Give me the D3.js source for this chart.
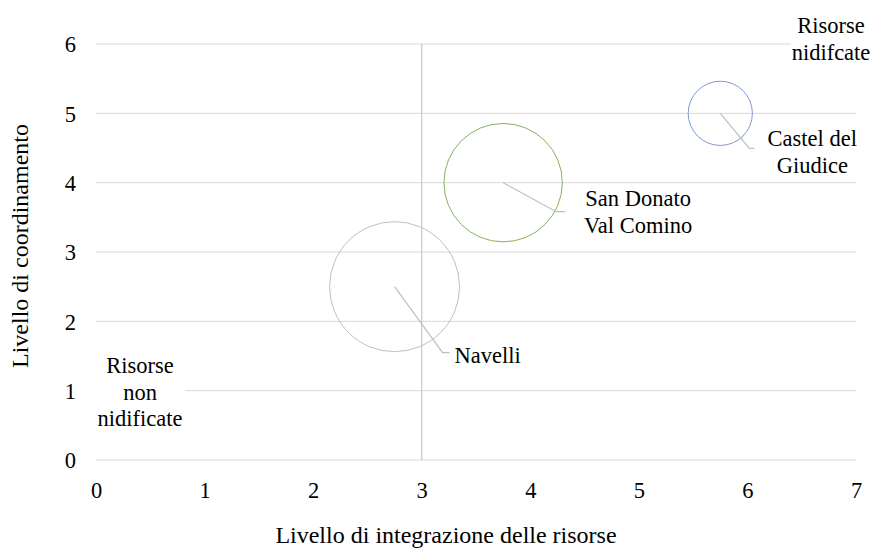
<!DOCTYPE html>
<html><head><meta charset="utf-8">
<script src="https://cdn.jsdelivr.net/npm/d3@7"></script>
</head><body style="margin:0;background:#fff"><svg id="c" width="882" height="552"></svg>
<script>
const names = ["Navelli", "San Donato Val Comino", "Castel del Giudice"];
const labelLines = [["Navelli"], ["San Donato", "Val Comino"], ["Castel del", "Giudice"]];
const xVals = [2.75, 3.75, 5.75];
const yVals = [2.5, 4, 5];
const sizes = [4.1, 3.4, 1.0];
const xTicks = [0,1,2,3,4,5,6,7];
const yTicks = [0,1,2,3,4,5,6];

const strokes = ["#c9bcbc", "#86b25f", "#7f9ad0"];
// label / leader geometry (pixel offsets from the bubble centre)
const labelOff = [[60, 68, "start"], [135, 29, "middle"], [92, 38, "middle"]];
const leaderOff = [[[48,66],[55,66]], [[53,29],[62,29]], [[29,35],[34,35]]];
const FF = "Liberation Serif";
const FS = "22.5px";

const svg = d3.select("#c");
const x = d3.scaleLinear().domain([0,7]).range([96,856]);
const y = d3.scaleLinear().domain([0,6]).range([460,44]);
const r = d3.scaleSqrt().domain([0,4.1]).range([0,65]);

function styleText(sel, fs){ return sel.style("font-family", FF).style("font-size", fs || FS).attr("fill", "#000"); }

svg.append("g").selectAll("line").data(yTicks).join("line")
  .attr("x1", x(0)).attr("x2", x(7))
  .attr("y1", d=>y(d)).attr("y2", d=>y(d))
  .attr("stroke", "#d9d9d9").attr("stroke-width", 1);

svg.append("line").attr("x1", x(3)).attr("x2", x(3)).attr("y1", y(6)).attr("y2", y(0))
  .attr("stroke", "#c8c8c8").attr("stroke-width", 1.2);

const xAxis = d3.axisBottom(x).tickValues(xTicks).tickFormat(d3.format("d")).tickSize(0).tickPadding(0);
const gx = svg.append("g").attr("transform", "translate(0,490)").call(xAxis);
gx.select(".domain").remove();
styleText(gx.selectAll("text")).attr("y", 0).attr("dy", "0.35em");

const yAxis = d3.axisLeft(y).tickValues(yTicks).tickFormat(d3.format("d")).tickSize(0).tickPadding(0);
const gy = svg.append("g").attr("transform", "translate(76,0)").call(yAxis);
gy.select(".domain").remove();
styleText(gy.selectAll("text")).attr("dy", "0.35em");

const pts = names.map((n,i)=>({n, i, x:xVals[i], y:yVals[i], s:sizes[i]}));
svg.append("g").selectAll("circle").data(pts).join("circle")
  .attr("cx", d=>x(d.x)).attr("cy", d=>y(d.y)).attr("r", d=>r(d.s))
  .attr("fill", "none").attr("stroke", d=>strokes[d.i]).attr("stroke-width", 1);

pts.forEach(d=>{
  const cx = x(d.x), cy = y(d.y);
  const [e, f] = leaderOff[d.i];
  svg.append("polyline")
    .attr("points", `${cx},${cy} ${cx+e[0]},${cy+e[1]} ${cx+f[0]},${cy+f[1]}`)
    .attr("fill","none").attr("stroke","#bfbfbf").attr("stroke-width",1.2);
});
pts.forEach(d=>{
  const cx = x(d.x), cy = y(d.y);
  const [ox, oy, anchor] = labelOff[d.i];
  const lines = labelLines[d.i];
  const lh = 27;
  const t = styleText(svg.append("text").attr("text-anchor", anchor));
  lines.forEach((s,k)=>{
    t.append("tspan").attr("x", cx+ox).attr("y", cy+oy + (k - (lines.length-1)/2)*lh).attr("dy","0.35em").text(s);
  });
});

function note(lines, cx, cy, bw){
  const lh = 26.5;
  const h = lines.length*lh;
  svg.append("rect").attr("x", cx-bw/2).attr("y", cy-h/2).attr("width", bw).attr("height", h).attr("fill","#fff");
  const t = styleText(svg.append("text").attr("text-anchor","middle"));
  lines.forEach((s,k)=>t.append("tspan").attr("x",cx).attr("y",cy+(k-(lines.length-1)/2)*lh).attr("dy","0.35em").text(s));
}
note(["Risorse","non","nidificate"], 140, 392, 90);
note(["Risorse","nidifcate"], 831, 38.5, 80);

styleText(svg.append("text").attr("x", 446).attr("y", 535).attr("dy","0.35em").attr("text-anchor","middle"), "24px")
  .text("Livello di integrazione delle risorse");
styleText(svg.append("text").attr("transform","translate(20,246) rotate(-90)").attr("dy","0.35em").attr("text-anchor","middle"), "24px")
  .text("Livello di coordinamento");
</script></body></html>
